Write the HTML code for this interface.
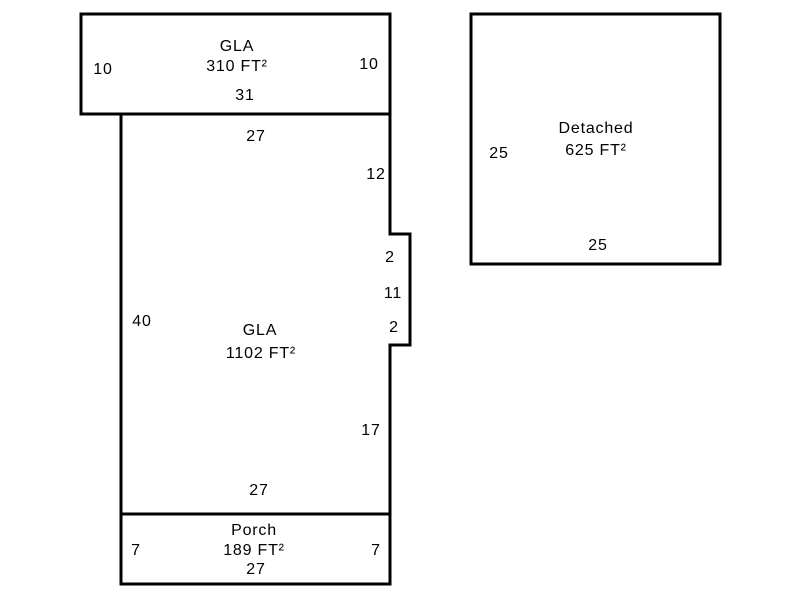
<!DOCTYPE html>
<html><head><style>body{margin:0;background:#fff}svg{display:block}</style></head>
<body>
<svg width="800" height="600" xmlns="http://www.w3.org/2000/svg" font-family="Liberation Sans, Arial, sans-serif" font-size="16" letter-spacing="0.8" fill="#000" text-anchor="middle">
<g fill="none" stroke="#000" stroke-width="3">
<rect x="81" y="14" width="309" height="100"/>
<path d="M121 114 L390 114 L390 234 L410 234 L410 345 L390 345 L390 514 L121 514 Z"/>
<rect x="121" y="514" width="269" height="70"/>
<rect x="471" y="14" width="249" height="250"/>
</g>
<text x="237" y="51">GLA</text>
<text x="237" y="71">310 FT²</text>
<text x="103" y="74">10</text>
<text x="369" y="69">10</text>
<text x="245" y="100">31</text>
<text x="256" y="141">27</text>
<text x="376" y="179">12</text>
<text x="390" y="262">2</text>
<text x="393" y="298">11</text>
<text x="394" y="332">2</text>
<text x="142" y="326">40</text>
<text x="260" y="335">GLA</text>
<text x="261" y="358">1102 FT²</text>
<text x="371" y="435">17</text>
<text x="259" y="495">27</text>
<text x="254" y="535">Porch</text>
<text x="254" y="555">189 FT²</text>
<text x="256" y="574">27</text>
<text x="136" y="555">7</text>
<text x="376" y="555">7</text>
<text x="596" y="133">Detached</text>
<text x="596" y="155">625 FT²</text>
<text x="499" y="158">25</text>
<text x="598" y="250">25</text>
</svg>
</body></html>
